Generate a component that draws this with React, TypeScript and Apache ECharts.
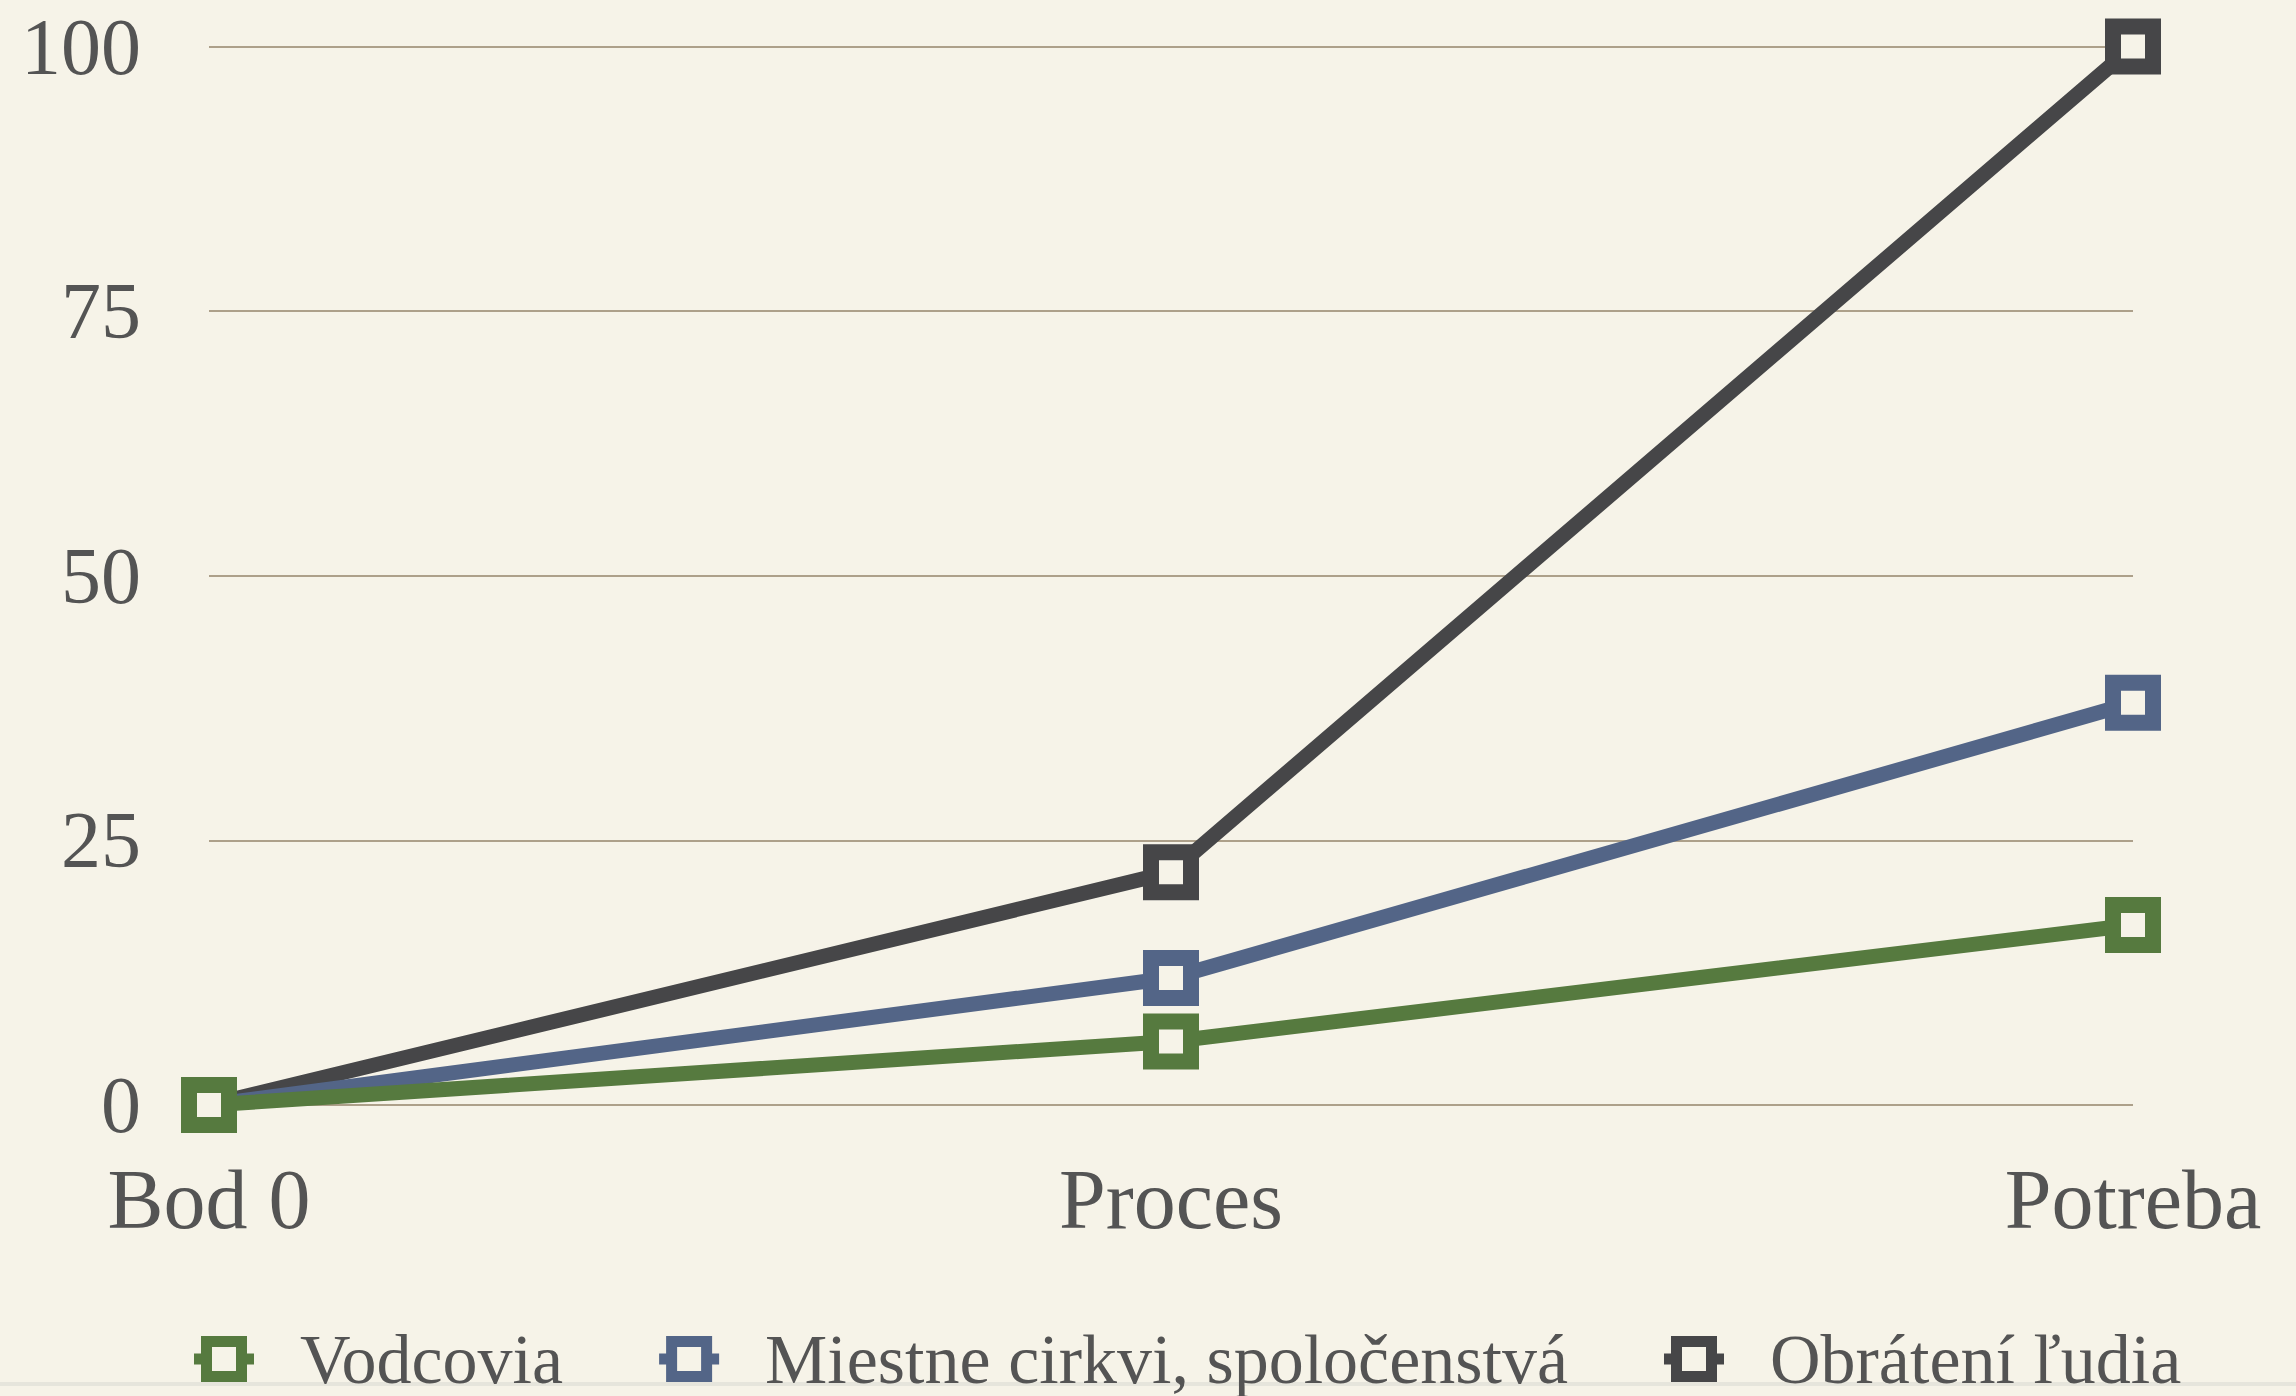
import React, { useEffect, useRef } from "react";
import * as echarts from "echarts";

const categories = ["Bod 0", "Proces", "Potreba"];
const seriesNames = ["Vodcovia", "Miestne cirkvi, spoločenstvá", "Obrátení ľudia"];
const vodcovia = [0, 6, 17];
const miestne = [0, 12, 38];
const obrateni = [0, 22, 100];
const yTicks = [0, 25, 50, 75, 100];
const colors = ["#567a3f", "#536587", "#464648"];

const BG = "#f6f3e8";
const FONT = "'Liberation Serif', 'DejaVu Serif', serif";
const TEXT = "#545454";
const ICON = "path://M0 17.5 H7 V0 H53 V17.5 H60 V28.5 H53 V46 H7 V28.5 H0 Z M18 11 V35 H42 V11 Z";

export default function App() {
  const ref = useRef<HTMLDivElement>(null);
  useEffect(() => {
    if (!ref.current) return;
    const chart = echarts.init(ref.current, undefined, { renderer: "svg" });
    const values = [vodcovia, miestne, obrateni];
    chart.setOption({
      animation: false,
      backgroundColor: BG,
      grid: { left: 209, right: 163, top: 46.5, bottom: 291, containLabel: false },
      xAxis: {
        type: "category",
        data: categories,
        boundaryGap: false,
        axisLine: { show: false },
        axisTick: { show: false },
        axisLabel: { color: TEXT, fontFamily: FONT, fontSize: 84, margin: 52 },
      },
      yAxis: {
        type: "value",
        min: yTicks[0],
        max: yTicks[yTicks.length - 1],
        interval: 25,
        axisLine: { show: false },
        axisTick: { show: false },
        axisLabel: { color: TEXT, fontFamily: FONT, fontSize: 80, margin: 68 },
        splitLine: { lineStyle: { color: "#ada08a", width: 2 } },
      },
      legend: {
        left: 194,
        top: 1324,
        padding: 0,
        itemWidth: 60,
        itemHeight: 46,
        itemGap: 96,
        icon: ICON,
        z: 10,
        textStyle: {
          color: TEXT,
          fontFamily: FONT,
          fontSize: 70,
          lineHeight: 70,
          padding: [0, 0, 0, 41],
        },
        data: seriesNames.map((n, i) => ({
          name: n,
          icon: ICON,
          itemStyle: { color: colors[i], borderWidth: 0, borderColor: colors[i] },
        })),
      },
      graphic: [
        {
          type: "rect",
          left: 0,
          top: 1382,
          z: -10,
          silent: true,
          shape: { width: 2296, height: 4 },
          style: { fill: "#e6e5dc" },
        },
      ],
      series: seriesNames.map((n, i) => ({
        name: n,
        type: "line",
        data: values[i],
        symbol: "rect",
        symbolSize: 40,
        z: 6 - i,
        lineStyle: { color: colors[i], width: 15 },
        itemStyle: { color: BG, borderColor: colors[i], borderWidth: 16 },
        emphasis: { disabled: true },
      })),
    });
    return () => chart.dispose();
  }, []);
  return (
    <div
      ref={ref}
      style={{ position: "fixed", left: 0, top: 0, width: 2296, height: 1396, background: BG }}
    />
  );
}
